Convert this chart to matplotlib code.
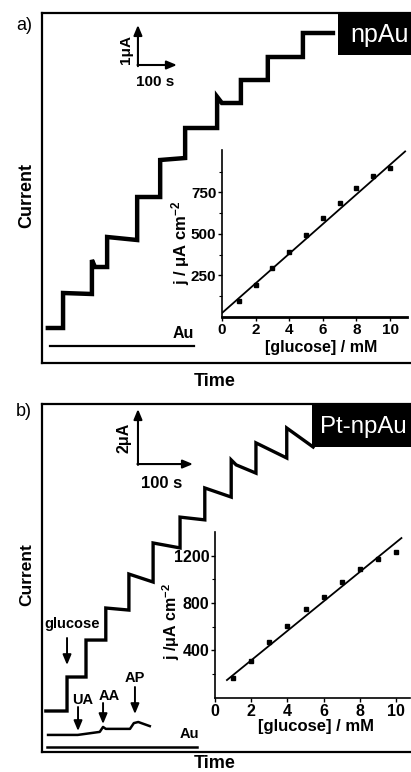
import matplotlib
matplotlib.use('Agg')
import matplotlib.pyplot as plt
from matplotlib import font_manager as fm
from matplotlib.patches import Rectangle
from matplotlib.ticker import FixedLocator

names = {f.name for f in fm.fontManager.ttflist}
SANS = 'Liberation Sans'
NARROW = 'Liberation Sans Narrow' if 'Liberation Sans Narrow' in names else SANS
plt.rcParams['font.family'] = [SANS, 'DejaVu Sans']
plt.rcParams['mathtext.default'] = 'regular'

W, H = 411, 772

# ---------------- data: panel a (npAu) ----------------
a_bounds = [15, 54, 128, 167, 244, 303, 367, 449, 510, 579, 669, 746]       # s
a_start = [0, 0.875, 1.525, 2.275, 3.275, 4.20, 5.00, 5.625, 6.20, 6.775, 7.375]  # uA
a_end = [0, 0.85, 1.525, 2.20, 3.275, 4.25, 5.00, 5.625, 6.20, 6.775, 7.375]
a_peak = [0, 0.875, 1.70, 2.275, 3.275, 4.20, 5.00, 5.78, 6.20, 6.775, 7.375]
a_au_t = [20, 390]
a_au_i = [-0.45, -0.45]

conc = [1, 2, 3, 4, 5, 6, 7, 8, 9, 10]           # mM
a_j = [96, 193, 295, 392, 494, 596, 687, 777, 849, 898]
a_fit_x = [0, 10.9]
a_fit_slope, a_fit_icpt = 89.3, 24
a_yticks = [250, 500, 750]
a_xticks = [0, 2, 4, 6, 8, 10]

# ---------------- data: panel b (Pt-npAu) ----------------
b_bounds = [7, 45.5, 80, 116, 158, 202, 251, 296, 344, 389, 445, 493]
b_start = [0, 1.236, 2.58, 3.745, 4.98, 6.11, 7.05, 8.11, 8.95, 9.75, 10.29]
b_end = [0, 1.236, 2.58, 3.67, 4.69, 5.93, 6.95, 7.78, 8.65, 9.20, 9.60]
b_peak = [0, 1.236, 2.58, 3.745, 4.98, 6.11, 7.05, 8.11, 9.13, 9.75, 10.29]
b_int_t = [11, 65, 105, 111, 116, 160, 167, 175, 196]
b_int_i = [-0.87, -0.87, -0.76, -0.58, -0.65, -0.65, -0.44, -0.40, -0.55]
b_au_t = [9, 282]
b_au_i = [-1.31, -1.31]

b_j = [162, 306, 468, 604, 749, 851, 979, 1089, 1174, 1234]
b_fit_x = [0.66, 10.3]
b_fit_slope, b_fit_icpt = 125.3, 62
b_yticks = [400, 800, 1200]
b_xticks = [0, 2, 4, 6, 8, 10]


def trace(bounds, start, end, peak):
    xs, ys = [], []
    for i in range(len(start)):
        t0, t1 = bounds[i], bounds[i + 1]
        xs.append(t0); ys.append(peak[i])
        if peak[i] != start[i]:
            xs.append(t0 + 0.2 * (t1 - t0)); ys.append(start[i])
        xs.append(t1); ys.append(end[i])
    return xs, ys


def fx(x):
    return x / W


def fy(y):
    return 1 - y / H


def rect(l, t, r, b):
    return [fx(l), fy(b), fx(r) - fx(l), fy(t) - fy(b)]


fig = plt.figure(figsize=(W / 100, H / 100), dpi=100)
head = '-|>,head_length=0.6,head_width=0.25'

# ================= panel a =================
axa = fig.add_axes(rect(42, 13, 411, 363))
x, y = trace(a_bounds, a_start, a_end, a_peak)
axa.plot(x, y, color='black', lw=3.2, solid_joinstyle='miter')
axa.plot(a_au_t, a_au_i, color='black', lw=1.6)
axa.set_xlim(0, 369 / 0.39)
axa.set_ylim(-0.875, 7.875)
axa.set_xticks([]); axa.set_yticks([])
axa.spines['right'].set_visible(False)
for s in ['left', 'top', 'bottom']:
    axa.spines[s].set_linewidth(1.6)
axa.text(390, -0.15, 'Au', ha='right', va='center', fontsize=11.5, fontweight='bold', family=NARROW)
ca = (246, 6.575)
axa.annotate('', xy=(ca[0], ca[1] + 1), xytext=(ca[0], ca[1] - 0.03),
             arrowprops=dict(arrowstyle=head, color='black', lw=1.5, shrinkA=0, shrinkB=0))
axa.annotate('', xy=(ca[0] + 100, ca[1]), xytext=(ca[0] - 1, ca[1]),
             arrowprops=dict(arrowstyle=head, color='black', lw=1.5, shrinkA=0, shrinkB=0))
fig.text(fx(126), fy(49), '1μA', rotation=90, ha='center', va='center', fontsize=11, fontweight='bold', family=NARROW)
fig.text(fx(155), fy(82), '100 s', ha='center', va='center', fontsize=11, fontweight='bold', family=NARROW)

fig.text(fx(24), fy(26), 'a)', ha='center', va='center', fontsize=13)
fig.text(fx(27), fy(196), 'Current', rotation=90, ha='center', va='center', fontsize=13, fontweight='bold')
fig.text(fx(215), fy(381), 'Time', ha='center', va='center', fontsize=13, fontweight='bold', family=NARROW)

fig.patches.append(Rectangle((fx(338), fy(55)), fx(420) - fx(338), fy(13) - fy(55),
                             transform=fig.transFigure, facecolor='black', edgecolor='none', zorder=3))
fig.text(fx(350), fy(35), 'npAu', ha='left', va='center', fontsize=18, color='white', zorder=4)

# inset a
ia = fig.add_axes(rect(222, 150, 407, 317))
ia.plot(conc, a_j, 's', color='black', ms=3.2)
ia.plot(a_fit_x, [a_fit_icpt + a_fit_slope * v for v in a_fit_x], color='black', lw=1.3)
ia.set_xlim(0, 185 / 16.8)
ia.set_ylim(0, 1006)
ia.set_xticks(a_xticks)
ia.set_yticks(a_yticks)
ia.yaxis.set_minor_locator(FixedLocator([125, 375, 625, 875]))
for s in ['top', 'right']:
    ia.spines[s].set_visible(False)
ia.spines['left'].set_linewidth(1.2)
ia.spines['bottom'].set_linewidth(2.0)
ia.tick_params(direction='out', length=3, width=1, pad=1)
ia.tick_params(which='minor', direction='out', length=2, width=0.8)
for lab in ia.get_xticklabels() + ia.get_yticklabels():
    lab.set_fontweight('bold'); lab.set_fontsize(11); lab.set_family(NARROW)
fig.text(fx(181), fy(243), 'j / μA cm$^{-2}$', rotation=90, ha='center', va='center', fontsize=12, fontweight='bold')
fig.text(fx(321), fy(347), '[glucose] / mM', ha='center', va='center', fontsize=11.5, fontweight='bold')

# ================= panel b =================
axb = fig.add_axes(rect(42, 404, 411, 752))
x, y = trace(b_bounds, b_start, b_end, b_peak)
axb.plot(x, y, color='black', lw=2.4, solid_joinstyle='miter')
axb.plot(b_int_t, b_int_i, color='black', lw=1.8)
axb.plot(b_au_t, b_au_i, color='black', lw=1.8)
axb.set_xlim(0, 369 / 0.55)
axb.set_ylim(-41 / 27.5, 307 / 27.5)
axb.set_xticks([]); axb.set_yticks([])
axb.spines['right'].set_visible(False)
for s in ['left', 'top', 'bottom']:
    axb.spines[s].set_linewidth(1.6)
axb.text(268, -0.84, 'Au', ha='center', va='center', fontsize=10.5, fontweight='bold', family=NARROW)
cb = (174.5, 8.98)
axb.annotate('', xy=(cb[0], cb[1] + 2), xytext=(cb[0], cb[1] - 0.03),
             arrowprops=dict(arrowstyle=head, color='black', lw=1.5, shrinkA=0, shrinkB=0))
axb.annotate('', xy=(cb[0] + 100, cb[1]), xytext=(cb[0] - 1, cb[1]),
             arrowprops=dict(arrowstyle=head, color='black', lw=1.5, shrinkA=0, shrinkB=0))
fig.text(fx(124), fy(438), '2μA', rotation=90, ha='center', va='center', fontsize=11.5, fontweight='bold', family=NARROW)
fig.text(fx(162), fy(483), '100 s', ha='center', va='center', fontsize=12, fontweight='bold', family=NARROW)

arrow_kw = dict(arrowstyle=head, color='black', lw=1.4, shrinkA=0, shrinkB=0)
for (tx, y0, y1, lab, lx, ly) in [(45.5, 638, 665, 'glucose', 72, 624),
                                   (65.5, 707, 731, 'UA', 83, 700),
                                   (111, 703, 724, 'AA', 109, 696),
                                   (169, 687, 714, 'AP', 135, 678)]:
    axb.annotate('', xy=(tx, (711 - y1) / 27.5), xytext=(tx, (711 - y0) / 27.5), arrowprops=arrow_kw)
    fig.text(fx(lx), fy(ly), lab, ha='center', va='center', fontsize=10.5, fontweight='bold', family=NARROW)

fig.text(fx(24), fy(412), 'b)', ha='center', va='center', fontsize=13)
fig.text(fx(27), fy(575), 'Current', rotation=90, ha='center', va='center', fontsize=12.5, fontweight='bold')
fig.text(fx(215), fy(764), 'Time', ha='center', va='center', fontsize=13, fontweight='bold', family=NARROW)

fig.patches.append(Rectangle((fx(312), fy(447)), fx(420) - fx(312), fy(405) - fy(447),
                             transform=fig.transFigure, facecolor='black', edgecolor='none', zorder=3))
fig.text(fx(320), fy(427), 'Pt-npAu', ha='left', va='center', fontsize=17.3, color='white', zorder=4)

# inset b
ib = fig.add_axes(rect(215, 532, 410, 698))
ib.plot(conc, b_j, 's', color='black', ms=3.2)
ib.plot(b_fit_x, [b_fit_icpt + b_fit_slope * v for v in b_fit_x], color='black', lw=1.3)
ib.set_xlim(0, 195 / 18.1)
ib.set_ylim(-8, 1404)
ib.set_xticks(b_xticks)
ib.set_yticks(b_yticks)
ib.yaxis.set_minor_locator(FixedLocator([200, 600, 1000]))
for s in ['top', 'right']:
    ib.spines[s].set_visible(False)
ib.spines['left'].set_linewidth(1.2)
ib.spines['bottom'].set_linewidth(1.2)
ib.tick_params(direction='out', length=3, width=1, pad=1)
ib.tick_params(which='minor', direction='out', length=2, width=0.8)
for lab in ib.get_xticklabels() + ib.get_yticklabels():
    lab.set_fontweight('bold'); lab.set_fontsize(11.5); lab.set_family(SANS)
fig.text(fx(171), fy(622), 'j /μA cm$^{-2}$', rotation=90, ha='center', va='center', fontsize=11.5, fontweight='bold')
fig.text(fx(316), fy(726), '[glucose] / mM', ha='center', va='center', fontsize=12, fontweight='bold')

fig.savefig('out.png', dpi=100)
